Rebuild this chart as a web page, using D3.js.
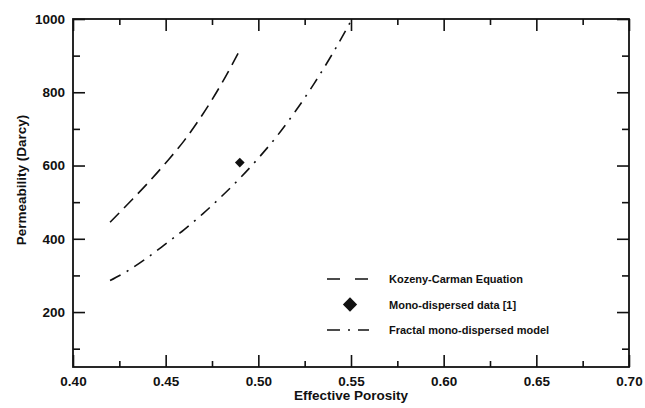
<!DOCTYPE html>
<html>
<head>
<meta charset="utf-8">
<script src="https://cdn.jsdelivr.net/npm/d3@7"></script>
<style>
  html, body { margin: 0; padding: 0; background: #fff; }
  svg { display: block; font-family: "Liberation Sans", Arial, Helvetica, sans-serif; }
</style>
</head>
<body>
<svg id="chart" width="645" height="408"></svg>
<script>
// Permeability vs effective porosity: Kozeny-Carman, fractal model, measured point
const kozenyX = [0.42, 0.43, 0.44, 0.45, 0.46, 0.47, 0.48, 0.49];
const kozenyY = [445, 497, 550, 607, 668, 740, 822, 915];

const fractalX = [0.42, 0.43, 0.44, 0.45, 0.46, 0.47, 0.48, 0.49, 0.50, 0.51, 0.52, 0.53, 0.54, 0.55];
const fractalY = [286, 314, 348, 386, 425, 468, 515, 565, 620, 680, 748, 823, 905, 995];

const dataX = [0.49];
const dataY = [608];

const xMajor = [0.40, 0.45, 0.50, 0.55, 0.60, 0.65, 0.70];
const xMinor = [0.425, 0.475, 0.525, 0.575, 0.625, 0.675];
const yMajor = [200, 400, 600, 800, 1000];
const yMinor = [100, 300, 500, 700, 900];

const legendLabels = ['Kozeny-Carman Equation', 'Mono-dispersed data [1]', 'Fractal mono-dispersed model'];

(function () {
  const svg = d3.select('#chart');
  const margin = { top: 19, right: 16, bottom: 41, left: 73 };
  const width = 645 - margin.left - margin.right;
  const height = 408 - margin.top - margin.bottom;

  const g = svg.append('g')
    .attr('transform', 'translate(' + margin.left + ',' + margin.top + ')');

  const x = d3.scaleLinear().domain([0.40, 0.70]).range([0, width]);
  const y = d3.scaleLinear().domain([50, 1000]).range([height, 0]);

  const ink = '#111';
  const styleAxis = ax => {
    ax.select('.domain').remove();
    ax.selectAll('line').attr('stroke', ink).attr('stroke-width', 1.6);
  };

  // frame
  g.append('rect')
    .attr('width', width).attr('height', height)
    .attr('fill', 'none').attr('stroke', ink).attr('stroke-width', 1.8);

  // bottom axis (ticks inward)
  g.append('g').attr('transform', 'translate(0,' + height + ')')
    .call(d3.axisBottom(x).tickValues(xMajor).tickFormat(d3.format('.2f')).tickSizeInner(-12).tickSizeOuter(0).tickPadding(9))
    .call(styleAxis)
    .call(ax => ax.selectAll('text').attr('font-size', 13.5).attr('font-weight', 'bold').attr('fill', ink));
  g.append('g').attr('transform', 'translate(0,' + height + ')')
    .call(d3.axisBottom(x).tickValues(xMinor).tickFormat('').tickSizeInner(-6).tickSizeOuter(0))
    .call(styleAxis);
  // top axis
  g.append('g')
    .call(d3.axisTop(x).tickValues(xMajor).tickFormat('').tickSizeInner(-12).tickSizeOuter(0))
    .call(styleAxis);
  g.append('g')
    .call(d3.axisTop(x).tickValues(xMinor).tickFormat('').tickSizeInner(-6).tickSizeOuter(0))
    .call(styleAxis);

  // left axis
  g.append('g')
    .call(d3.axisLeft(y).tickValues(yMajor).tickFormat(d3.format('d')).tickSizeInner(-12).tickSizeOuter(0).tickPadding(8))
    .call(styleAxis)
    .call(ax => ax.selectAll('text').attr('font-size', 13.5).attr('font-weight', 'bold').attr('fill', ink));
  g.append('g')
    .call(d3.axisLeft(y).tickValues(yMinor).tickFormat('').tickSizeInner(-7).tickSizeOuter(0))
    .call(styleAxis);
  // right axis
  g.append('g').attr('transform', 'translate(' + width + ',0)')
    .call(d3.axisRight(y).tickValues(yMajor).tickFormat('').tickSizeInner(-12).tickSizeOuter(0))
    .call(styleAxis);
  g.append('g').attr('transform', 'translate(' + width + ',0)')
    .call(d3.axisRight(y).tickValues(yMinor).tickFormat('').tickSizeInner(-7).tickSizeOuter(0))
    .call(styleAxis);

  // axis titles
  g.append('text')
    .attr('x', width / 2).attr('y', height + 33)
    .attr('text-anchor', 'middle').attr('font-size', 13.5).attr('font-weight', 'bold').attr('fill', ink)
    .text('Effective Porosity');
  g.append('text')
    .attr('transform', 'translate(-47,' + (height / 2 - 13) + ') rotate(-90)')
    .attr('text-anchor', 'middle').attr('font-size', 13.5).attr('font-weight', 'bold').attr('fill', ink)
    .text('Permeability (Darcy)');

  // curves
  const line = d3.line().x(d => x(d[0])).y(d => y(d[1])).curve(d3.curveMonotoneX);
  g.append('path')
    .attr('d', line(d3.zip(kozenyX, kozenyY)))
    .attr('fill', 'none').attr('stroke', ink).attr('stroke-width', 1.6)
    .attr('stroke-dasharray', '13,7');
  g.append('path')
    .attr('d', line(d3.zip(fractalX, fractalY)))
    .attr('fill', 'none').attr('stroke', ink).attr('stroke-width', 1.6)
    .attr('stroke-dasharray', '12,7,2,7');

  // measured point
  const diamond = d3.symbol().type(d3.symbolDiamond2).size(60);
  g.selectAll('path.pt').data(d3.zip(dataX, dataY)).join('path')
    .attr('class', 'pt')
    .attr('transform', d => 'translate(' + x(d[0]) + ',' + y(d[1]) + ')')
    .attr('d', diamond).attr('fill', ink);

  // legend
  const legend = g.append('g').attr('transform', 'translate(254,260)');
  const rows = [
    { label: legendLabels[0], type: 'dash' },
    { label: legendLabels[1], type: 'dot' },
    { label: legendLabels[2], type: 'dashdot' }
  ];
  rows.forEach((r, i) => {
    const row = legend.append('g').attr('transform', 'translate(0,' + (i * 25.5) + ')');
    if (r.type === 'dash') {
      row.append('line').attr('x1', 0).attr('x2', 42).attr('stroke', ink).attr('stroke-width', 1.6)
        .attr('stroke-dasharray', '13,15');
    } else if (r.type === 'dashdot') {
      row.append('line').attr('x1', 0).attr('x2', 42).attr('stroke', ink).attr('stroke-width', 1.6)
        .attr('stroke-dasharray', '13,8,2,8,11');
    } else {
      row.append('path').attr('transform', 'translate(23,0)')
        .attr('d', d3.symbol().type(d3.symbolDiamond2).size(130)).attr('fill', ink);
    }
    row.append('text').attr('x', 62).attr('y', 4)
      .attr('font-size', 11).attr('font-weight', 'bold').attr('fill', ink)
      .text(r.label);
  });
})();
</script>
</body>
</html>
